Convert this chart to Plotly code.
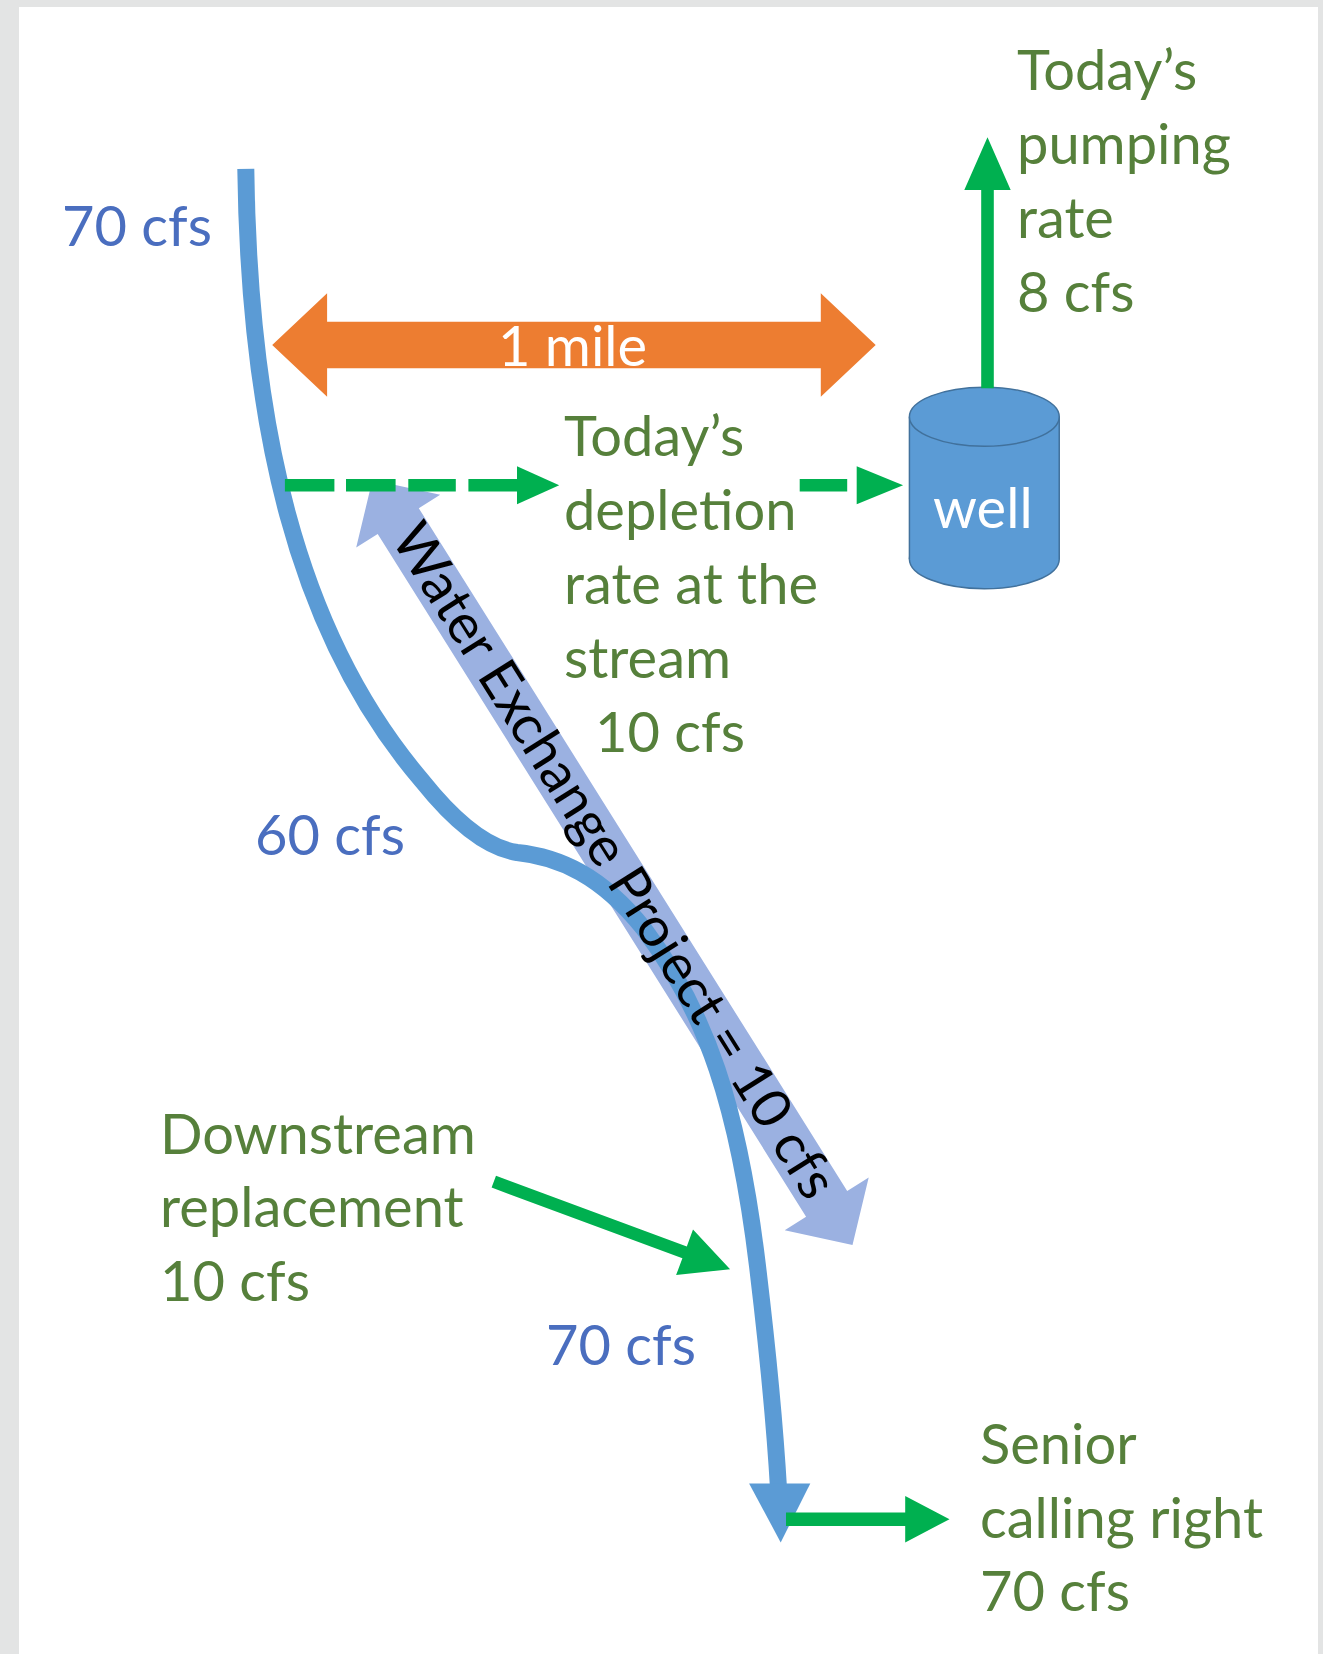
import math
import plotly.graph_objects as go

# ---------------- data (values shown in the diagram) ----------------
river_flows = [70, 60, 70]            # cfs: upstream, depleted reach, downstream
pumping_rate = 8                      # cfs
depletion_rate = 10                   # cfs
exchange_rate = 10                    # cfs
replacement_rate = 10                 # cfs
senior_call = 70                      # cfs
distance_label = "1 mile"

pumping_lines = ["Today’s", "pumping", "rate", f"{pumping_rate} cfs"]
depletion_lines = ["Today’s", "depletion", "rate at the", "stream", f"{depletion_rate} cfs"]
replacement_lines = ["Downstream", "replacement", f"{replacement_rate} cfs"]
senior_lines = ["Senior", "calling right", f"{senior_call} cfs"]
exchange_text = f"Water Exchange Project = {exchange_rate} cfs"

# ---------------- styling / layout ----------------
W, H = 1323, 1654
K = W / 1254.0  # layout sketched in 1254-wide units
FONT = "Lato"
FS = 56
GREEN_TXT = "#56803B"
BLUE_TXT = "#4A6EBF"
RIVER = "#5B9BD5"
ORANGE = "#ED7D31"
GREEN = "#00B050"
LIGHTBLUE = "#9BB1E1"
WELL_EDGE = "#41719C"


def s(v):
    return v * K


def path_from(points, close=True):
    d = "M " + " L ".join(f"{s(x):.1f},{s(y):.1f}" for x, y in points)
    return d + (" Z" if close else "")


def arrow_points(p0, p1, shaft_hw, head_len, head_hw, double=False):
    dx, dy = p1[0] - p0[0], p1[1] - p0[1]
    L = math.hypot(dx, dy)
    ux, uy = dx / L, dy / L
    nx, ny = -uy, ux
    b1 = (p1[0] - head_len * ux, p1[1] - head_len * uy)
    pts = []
    if double:
        b0 = (p0[0] + head_len * ux, p0[1] + head_len * uy)
        pts += [p0, (b0[0] + head_hw * nx, b0[1] + head_hw * ny), (b0[0] + shaft_hw * nx, b0[1] + shaft_hw * ny)]
    else:
        pts += [(p0[0] + shaft_hw * nx, p0[1] + shaft_hw * ny)]
    pts += [(b1[0] + shaft_hw * nx, b1[1] + shaft_hw * ny),
            (b1[0] + head_hw * nx, b1[1] + head_hw * ny),
            p1,
            (b1[0] - head_hw * nx, b1[1] - head_hw * ny),
            (b1[0] - shaft_hw * nx, b1[1] - shaft_hw * ny)]
    if double:
        pts += [(b0[0] - shaft_hw * nx, b0[1] - shaft_hw * ny),
                (b0[0] - head_hw * nx, b0[1] - head_hw * ny)]
    else:
        pts += [(p0[0] - shaft_hw * nx, p0[1] - shaft_hw * ny)]
    return pts


shapes = []


def poly(points, color):
    shapes.append(dict(type="path", path=path_from(points), fillcolor=color,
                       line=dict(width=0), layer="above"))


# white canvas inside gray frame
shapes.append(dict(type="rect", x0=19, x1=1318, y0=7, y1=H + 5,
                   fillcolor="white", line=dict(width=0), layer="below"))

# light-blue exchange double arrow (under river)
ex_tip_a, ex_tip_b = (353, 455), (808, 1180)
poly(arrow_points(ex_tip_a, ex_tip_b, 23, 46, 47, double=True), LIGHTBLUE)

# river
river_pts = [(233, 160), (236, 400), (280, 600), (400, 740),
             (440, 790), (470, 805), (490, 808),
             (530, 812), (570, 830), (610, 880),
             (670, 960), (700, 1050), (718, 1200),
             (730, 1300), (735, 1360), (738, 1412)]
d = f"M {s(river_pts[0][0]):.1f},{s(river_pts[0][1]):.1f}"
for i in range(1, len(river_pts), 3):
    c = river_pts[i:i + 3]
    d += " C " + " ".join(f"{s(x):.1f},{s(y):.1f}" for x, y in c)
shapes.append(dict(type="path", path=d, line=dict(color=RIVER, width=17),
                   fillcolor="rgba(0,0,0,0)", layer="above"))
poly([(710, 1406), (768, 1406), (740, 1462)], RIVER)

# orange 1-mile double arrow
poly(arrow_points((258, 327), (830, 327), 22, 52, 49, double=True), ORANGE)

# dashed depletion line
for x0, x1 in [(270, 317), (328, 375), (387, 432), (444, 490), (758, 803)]:
    poly([(x0, 454), (x1, 454), (x1, 466), (x0, 466)], GREEN)
poly([(490, 442), (530, 460), (490, 478)], GREEN)
poly([(812, 442), (856, 460), (812, 478)], GREEN)

# well cylinder
wx0, wx1, wy_top, wy_bot, wry = 862, 1004, 395, 530, 28
shapes.append(dict(type="circle", x0=s(wx0), x1=s(wx1), y0=s(wy_bot - wry), y1=s(wy_bot + wry),
                   fillcolor=RIVER, line=dict(color=WELL_EDGE, width=1.5)))
shapes.append(dict(type="rect", x0=s(wx0), x1=s(wx1), y0=s(wy_top), y1=s(wy_bot),
                   fillcolor=RIVER, line=dict(width=0)))
for xx in (wx0, wx1):
    shapes.append(dict(type="line", x0=s(xx), x1=s(xx), y0=s(wy_top), y1=s(wy_bot),
                       line=dict(color=WELL_EDGE, width=1.5)))
shapes.append(dict(type="circle", x0=s(wx0), x1=s(wx1), y0=s(wy_top - wry), y1=s(wy_top + wry),
                   fillcolor=RIVER, line=dict(color=WELL_EDGE, width=1.5)))

# green arrows
poly(arrow_points((936, 368), (936, 130), 6, 50, 22), GREEN)          # pumping
poly(arrow_points((468, 1120), (692, 1203), 6, 46, 23), GREEN)        # downstream replacement
poly(arrow_points((745, 1440), (900, 1440), 6.5, 42, 22), GREEN)      # senior call

annotations = []


def text(x, y, t, color, size=FS, anchor="left", angle=0):
    annotations.append(dict(x=s(x), y=s(y), xref="x", yref="y", text=t, showarrow=False,
                            xanchor=anchor, yanchor="middle", textangle=angle,
                            font=dict(family=FONT, size=size, color=color)))


text(57, 213, f"{river_flows[0]} cfs", BLUE_TXT)
text(240, 790, f"{river_flows[1]} cfs", BLUE_TXT)
text(516, 1273, f"{river_flows[2]} cfs", BLUE_TXT)

for i, t in enumerate(pumping_lines):
    text(962, 65 + 70 * i, t, GREEN_TXT)
for i, t in enumerate(depletion_lines):
    text(533 + (29 if i == 4 else 0), 412 + 70 * i, t, GREEN_TXT)
for i, t in enumerate(replacement_lines):
    text(150, 1073 + 70 * i, t, GREEN_TXT)
for i, t in enumerate(senior_lines):
    text(927, 1367 + 70 * i, t, GREEN_TXT)

text(543, 327, distance_label, "white", anchor="center")
text(932, 480, "well", "white", anchor="center")

ang = math.degrees(math.atan2(ex_tip_b[1] - ex_tip_a[1], ex_tip_b[0] - ex_tip_a[0]))
L = math.hypot(ex_tip_b[0] - ex_tip_a[0], ex_tip_b[1] - ex_tip_a[1])
ux, uy = (ex_tip_b[0] - ex_tip_a[0]) / L, (ex_tip_b[1] - ex_tip_a[1]) / L
off = 5  # shift toward text "up" side (up-right on screen)
cx = (ex_tip_a[0] + ex_tip_b[0]) / 2 + off * uy
cy = (ex_tip_a[1] + ex_tip_b[1]) / 2 - off * ux
text(cx, cy, exchange_text, "black", size=55, anchor="center", angle=ang)

fig = go.Figure()
fig.update_layout(
    width=W, height=H,
    margin=dict(l=0, r=0, t=0, b=0),
    paper_bgcolor="#E3E4E4", plot_bgcolor="#E3E4E4",
    xaxis=dict(range=[0, W], visible=False, fixedrange=True),
    yaxis=dict(range=[H, 0], visible=False, fixedrange=True),
    shapes=shapes, annotations=annotations, showlegend=False,
)
fig.write_html("out.html", config={"displayModeBar": False},
               post_script="document.body.style.margin='0px';document.body.style.overflow='hidden';")
